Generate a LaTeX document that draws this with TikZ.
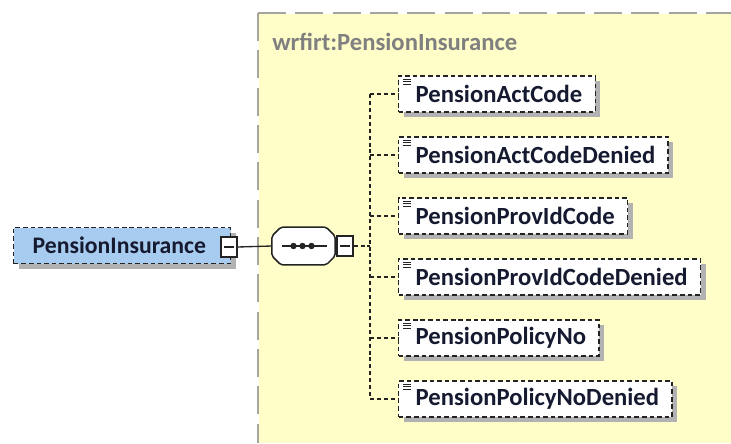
\documentclass[tikz,border=0pt]{standalone}
\usepackage{fontspec}
\setmainfont{Carlito}
\usetikzlibrary{positioning, calc}
\definecolor{xsdyellow}{RGB}{255,253,200}
\definecolor{xsdblue}{RGB}{168,204,240}
\definecolor{xsdframe}{RGB}{165,165,160}
\definecolor{xsdtext}{RGB}{22,26,48}
\definecolor{xsdline}{RGB}{35,35,35}

\begin{document}
\begin{tikzpicture}[x=0.75pt,y=-0.75pt,
  boxshadow/.style={preaction={draw=none, fill=black!30,
    transform canvas={shift={(3.75pt,-3.75pt)}}}},
  elem/.style={draw=xsdline, line width=1.1pt, dash pattern=on 3.5pt off 2.2pt,
    minimum height=27pt, inner xsep=9.75pt, text=xsdtext,
    font=\fontsize{18.5}{22}\selectfont\bfseries, boxshadow},
  leaf/.style={elem, fill=white, anchor=west},
  togglebox/.style={draw=xsdline, fill=white, line width=0.9pt,
    minimum width=12pt, minimum height=15pt, inner sep=0pt},
  link/.style={xsdline, line width=1.1pt, dash pattern=on 3pt off 2.2pt}]

\useasboundingbox (0,0) rectangle (731,443);

% complex type frame
\fill[xsdyellow] (259,14) rectangle (731,443);
\draw[xsdframe, line width=1.5pt, dash pattern=on 21pt off 7pt] (258,13) -- (731,13);
\draw[xsdframe, line width=1.5pt, dash pattern=on 21pt off 7pt] (258,13) -- (258,443);
\node[anchor=west, inner sep=0pt, text=black!50, font=\fontsize{18.5}{22}\selectfont\bfseries]
  (title) at (272,42) {wrfirt:PensionInsurance};

% element and sequence
\node[elem, fill=xsdblue, anchor=west, inner xsep=14.25pt, text width=134.25pt, align=left,
  font=\fontsize{17.8}{21}\selectfont\bfseries]
  (pension) at (13,245.5) {PensionInsurance};
\node[togglebox] (pensionmin) at (229,247) {};
\draw[xsdline, line width=0.9pt] ($(pensionmin.center)+(-5,0)$) -- ++(10,0);

\node[minimum width=47pt, minimum height=28pt, inner sep=0pt] (seq) at (303.5,246) {};
\fill[black!30, shift={(5,5)}] ($(seq.north west)+(9,0)$) -- ($(seq.north east)+(-9,0)$)
  -- ($(seq.north east)+(0,9)$) -- ($(seq.south east)+(0,-9)$) -- ($(seq.south east)+(-9,0)$)
  -- ($(seq.south west)+(9,0)$) -- ($(seq.south west)+(0,-9)$) -- ($(seq.north west)+(0,9)$) -- cycle;
\draw[xsdline, fill=white, line width=1.1pt, rounded corners=1.5pt]
  ($(seq.north west)+(9,0)$) -- ($(seq.north east)+(-9,0)$)
  -- ($(seq.north east)+(0,9)$) -- ($(seq.south east)+(0,-9)$) -- ($(seq.south east)+(-9,0)$)
  -- ($(seq.south west)+(9,0)$) -- ($(seq.south west)+(0,-9)$) -- ($(seq.north west)+(0,9)$) -- cycle;
\draw[xsdline, line width=1pt] ($(seq.center)+(-22,0)$) -- ++(45,0);
\foreach \dx in {-10,-1,8}
  \fill[xsdline] ($(seq.center)+(\dx,0)$) circle (2.4pt);
\node[togglebox] (seqmin) at (345,246) {};
\draw[xsdline, line width=0.9pt] ($(seqmin.center)+(-5,0)$) -- ++(10,0);

\draw[xsdline, line width=1pt] (pensionmin.east) -- (seq.west);

% children
\coordinate (bus) at (370,0);
\foreach \name [count=\i] in {PensionActCode, PensionActCodeDenied, PensionProvIdCode,
    PensionProvIdCodeDenied, PensionPolicyNo, PensionPolicyNoDenied}
{
  \node[leaf] (c\i) at (398,{33+61*\i}) {\hspace*{3pt}\name};
  \foreach \dy in {4,6.5,9}
    \draw[xsdline, line width=0.6pt] ($(c\i.north west)+(5,\dy)$) -- ++(8,0);
  \draw[link] (c\i.west -| bus) -- (c\i.west);
}
\draw[link] (c1.west -| bus) -- (c6.west -| bus);
\draw[link] (seqmin.east) -- (seqmin.east -| bus);
\end{tikzpicture}
\end{document}
